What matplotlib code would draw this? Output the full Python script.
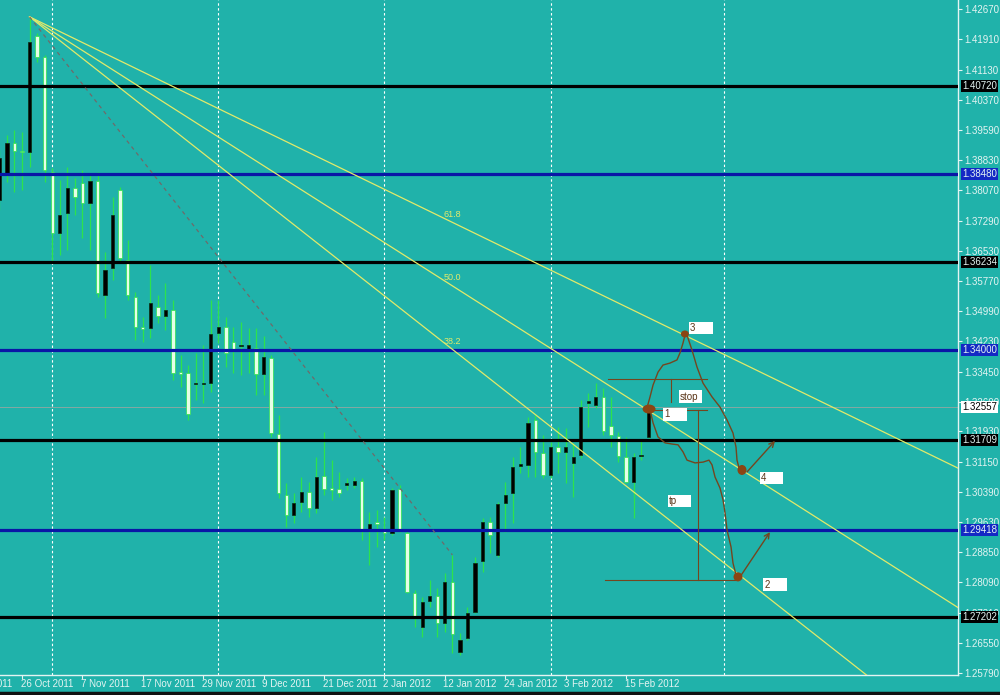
import matplotlib
matplotlib.use('Agg')
import matplotlib.pyplot as plt
import matplotlib.transforms as mtransforms
from matplotlib.patches import Rectangle, Ellipse
from matplotlib.lines import Line2D
import numpy as np

plt.rcParams['font.family'] = ['Liberation Sans', 'DejaVu Sans']

# ---------------- data (EURUSD daily, bar index 0 = 26 Oct 2011) ----------------
first_bar = -3
opens = [1.3782, 1.3846, 1.3927, 1.3907, 1.3904, 1.4199, 1.4146, 1.3853, 1.3698, 1.3749,
         1.3812, 1.3825, 1.3774, 1.3830, 1.3540, 1.3609, 1.3807, 1.3629, 1.3535, 1.3459,
         1.3456, 1.3510, 1.3487, 1.3502, 1.3344, 1.3342, 1.3314, 1.3314, 1.3316, 1.3444,
         1.3459, 1.3421, 1.3410, 1.3400, 1.3405, 1.3339, 1.3380, 1.3187, 1.3031, 1.2980,
         1.3013, 1.3039, 1.2998, 1.3080, 1.3049, 1.3047, 1.3057, 1.3057, 1.3067, 1.2942,
         1.2963, 1.2940, 1.2935, 1.3047, 1.2935, 1.2782, 1.2695, 1.2762, 1.2774, 1.2706,
         1.2810, 1.2632, 1.2667, 1.2734, 1.2863, 1.2963, 1.2879, 1.3011, 1.3036, 1.3105,
         1.3108, 1.3222, 1.3138, 1.3082, 1.3153, 1.3141, 1.3113, 1.3133, 1.3265, 1.3260,
         1.3281, 1.3207, 1.3181, 1.3128, 1.3064, 1.3131, 1.3179]
highs = [1.3909, 1.3947, 1.3960, 1.3955, 1.4248, 1.4207, 1.4151, 1.3863, 1.3833, 1.3866,
         1.3838, 1.3858, 1.3851, 1.3853, 1.3650, 1.3790, 1.3815, 1.3680, 1.3548, 1.3484,
         1.3617, 1.3540, 1.3571, 1.3527, 1.3388, 1.3362, 1.3393, 1.3413, 1.3527, 1.3527,
         1.3484, 1.3459, 1.3472, 1.3456, 1.3456, 1.3436, 1.3388, 1.3235, 1.3062, 1.3036,
         1.3077, 1.3064, 1.3128, 1.3192, 1.3120, 1.3090, 1.3075, 1.3077, 1.3075, 1.2988,
         1.2993, 1.2975, 1.3049, 1.3057, 1.2940, 1.2790, 1.2772, 1.2815, 1.2795, 1.2833,
         1.2879, 1.2680, 1.2746, 1.2874, 1.2973, 1.2975, 1.3013, 1.3064, 1.3128, 1.3153,
         1.3230, 1.3235, 1.3184, 1.3166, 1.3204, 1.3202, 1.3164, 1.3273, 1.3291, 1.3316,
         1.3304, 1.3281, 1.3192, 1.3179, 1.3138, 1.3171, 1.3262]
lows = [1.3756, 1.3828, 1.3802, 1.3807, 1.3866, 1.4133, 1.3828, 1.3624, 1.3642, 1.3655,
        1.3744, 1.3685, 1.3655, 1.3535, 1.3482, 1.3578, 1.3624, 1.3527, 1.3426, 1.3421,
        1.3431, 1.3469, 1.3451, 1.3324, 1.3306, 1.3222, 1.3273, 1.3265, 1.3293, 1.3418,
        1.3357, 1.3342, 1.3337, 1.3342, 1.3286, 1.3286, 1.3179, 1.3024, 1.2950, 1.2960,
        1.2988, 1.2975, 1.2986, 1.3031, 1.3019, 1.3026, 1.3044, 1.3049, 1.2917, 1.2853,
        1.2899, 1.2917, 1.2930, 1.2937, 1.2782, 1.2695, 1.2670, 1.2746, 1.2670, 1.2683,
        1.2629, 1.2624, 1.2662, 1.2731, 1.2835, 1.2884, 1.2874, 1.2937, 1.2960, 1.3087,
        1.3077, 1.3077, 1.3075, 1.3075, 1.3087, 1.3062, 1.3026, 1.3125, 1.3204, 1.3253,
        1.3184, 1.3153, 1.3115, 1.3062, 1.2973, 1.3120, 1.3176]
closes = [1.3889, 1.3927, 1.3907, 1.3904, 1.4184, 1.4146, 1.3858, 1.3698, 1.3744, 1.3812,
          1.3790, 1.3774, 1.3830, 1.3545, 1.3604, 1.3744, 1.3634, 1.3540, 1.3459, 1.3454,
          1.3520, 1.3487, 1.3502, 1.3342, 1.3339, 1.3237, 1.3316, 1.3316, 1.3441, 1.3459,
          1.3393, 1.3403, 1.3413, 1.3413, 1.3339, 1.3382, 1.3189, 1.3036, 1.2980, 1.3011,
          1.3039, 1.2998, 1.3077, 1.3047, 1.3044, 1.3036, 1.3062, 1.3067, 1.2942, 1.2958,
          1.2958, 1.2935, 1.3044, 1.2942, 1.2784, 1.2721, 1.2759, 1.2774, 1.2706, 1.2810,
          1.2678, 1.2662, 1.2731, 1.2858, 1.2963, 1.2930, 1.3008, 1.3031, 1.3103, 1.3110,
          1.3215, 1.3141, 1.3082, 1.3153, 1.3141, 1.3153, 1.3128, 1.3255, 1.3270, 1.3281,
          1.3194, 1.3184, 1.3131, 1.3064, 1.3128, 1.3133, 1.32557]

date_labels = ['14 Oct 2011', '26 Oct 2011', '7 Nov 2011', '17 Nov 2011', '29 Nov 2011',
               '9 Dec 2011', '21 Dec 2011', '2 Jan 2012', '12 Jan 2012', '24 Jan 2012',
               '3 Feb 2012', '15 Feb 2012']
date_bars = [-8, 0, 8, 16, 24, 32, 40, 48, 56, 64, 72, 80]
month_bars = [4, 26, 48, 70, 93]

price_ticks = [1.42670, 1.41910, 1.41130, 1.40370, 1.39590, 1.38830, 1.38070, 1.37290,
               1.36530, 1.35770, 1.34990, 1.34230, 1.33450, 1.32690, 1.31930, 1.31150,
               1.30390, 1.29630, 1.28850, 1.28090, 1.27310, 1.26550, 1.25790]

black_levels = [1.40720, 1.36234, 1.31709, 1.27202]
blue_levels = [1.38480, 1.34000, 1.29418]
bid_price = 1.32557

fan_bars = [1, 57]
fan_prices = [1.4248, 1.2879]
fan_levels = [0.382, 0.500, 0.618]

# hand drawn scenario
plan_hlines = [(77.6, 90.7, 1.3326), (82.5, 90.7, 1.3248), (77.2, 94.8, 1.2815)]
plan_vlines = [(85.96, 1.3326, 1.3268), (89.54, 1.3248, 1.2815)]
path_up_x = [82.78, 83.18, 83.58, 84.24, 84.90, 85.83, 86.75, 87.15, 87.55, 87.81]
path_up_p = [1.3253, 1.3281, 1.3311, 1.3344, 1.3362, 1.3367, 1.3375, 1.3393, 1.3418, 1.3438]
path_34_x = [88.08, 88.74, 89.40, 90.20, 91.39, 92.45, 93.38, 94.17, 94.57, 94.70, 94.97]
path_34_p = [1.3438, 1.3400, 1.3357, 1.3316, 1.3281, 1.3255, 1.3222, 1.3189, 1.3153, 1.3120, 1.3100]
path_12_x = [83.18, 83.58, 84.24, 85.17, 86.09, 86.89, 87.55, 88.08, 89.14, 90.20,
             90.99, 91.39, 91.79, 92.45, 92.85, 93.11, 93.38, 93.91, 94.17, 94.57]
path_12_p = [1.3248, 1.3215, 1.3179, 1.3164, 1.3161, 1.3159, 1.3141, 1.3120, 1.3113, 1.3115,
             1.3120, 1.3108, 1.3077, 1.3049, 1.3019, 1.2986, 1.2942, 1.2899, 1.2858, 1.2828]
arrows = [((96.03, 1.3090), (99.74, 1.3169)), ((95.10, 1.2823), (99.07, 1.2937))]
dots = [(83.05, 1.3250, 1.72, 0.00229), (87.8, 1.3441, 1.06, 0.00178),
        (95.36, 1.3095, 1.19, 0.00254), (94.83, 1.2823, 1.19, 0.00229)]
boxes = [('3', 88.34, 91.5, 1.3472, 1.3441), ('stop', 87.0, 90.07, 1.3298, 1.3265),
         ('1', 84.9, 88.08, 1.3253, 1.3220), ('tp', 85.56, 88.6, 1.3031, 1.3001),
         ('4', 97.75, 100.8, 1.3090, 1.3059), ('2', 98.15, 101.3, 1.2820, 1.2787)]

# ---------------- styling ----------------
BG = '#20B2AA'
WICK = '#2de24c'
BEAR_FILL = '#e6ffe6'
AXC = '#e4f4f2'
BLUE = '#0a16a6'
FAN = '#e2ea6a'
BROWN = '#74461f'
DOT = '#8B4513'

fig = plt.figure(figsize=(10, 6.95), dpi=100, facecolor=BG)
ax = fig.add_axes([0, 20 / 695, 0.958, 675 / 695], facecolor=BG)
ax.set_xlim(-2.914, 123.97)
ax.set_ylim(1.25733, 1.42908)

# month separators
for b in month_bars:
    ax.axvline(b, color='white', lw=0.8, ls=(0, (2.2, 2.2)), zorder=1)

# bid line
ax.axhline(bid_price, color='#86a8a2', lw=0.7, zorder=1.5)

# candles
bars = np.arange(first_bar, first_bar + len(closes))
for b, o, h, l, c in zip(bars, opens, highs, lows, closes):
    ax.vlines(b, l, h, color=WICK, lw=0.9, zorder=2)
    if abs(c - o) < 0.00015:
        ax.hlines(c, b - 0.25, b + 0.25, color=WICK, lw=1.0, zorder=3)
        continue
    bull = c > o
    ax.add_patch(Rectangle((b - 0.22, min(o, c)), 0.44, abs(c - o),
                           facecolor='black' if bull else BEAR_FILL,
                           edgecolor='#0b2a10' if bull else WICK, lw=0.5, zorder=3))

# fibonacci fan
for L in fan_levels:
    p_at = fan_prices[1] + (fan_prices[0] - fan_prices[1]) * L
    slope = (p_at - fan_prices[0]) / (fan_bars[1] - fan_bars[0])
    xe = 130
    ax.plot([fan_bars[0], xe], [fan_prices[0], fan_prices[0] + slope * (xe - fan_bars[0])],
            color=FAN, lw=0.9, zorder=5)
    ax.annotate(f'{L * 100:.1f}', (fan_bars[1], p_at), xytext=(0, 2.5),
                textcoords='offset points', ha='center', va='bottom',
                color=FAN, fontsize=6.5, zorder=6)
ax.plot(fan_bars, fan_prices, color='#6f6a6a', lw=0.9, ls=(0, (3, 3)), zorder=5)

# horizontal levels
for p in black_levels:
    ax.axhline(p, color='black', lw=2.3, zorder=4)
for p in blue_levels:
    ax.axhline(p, color=BLUE, lw=2.3, zorder=4)

# hand drawn plan
for x0, x1, p in plan_hlines:
    ax.plot([x0, x1], [p, p], color=BROWN, lw=0.8, zorder=6)
for x, p0, p1 in plan_vlines:
    ax.plot([x, x], [p0, p1], color=BROWN, lw=0.8, zorder=6)
for xs, ps in [(path_up_x, path_up_p), (path_34_x, path_34_p), (path_12_x, path_12_p)]:
    ax.plot(xs, ps, color=BROWN, lw=1.0, zorder=6, solid_capstyle='round')
for start, tip in arrows:
    ax.annotate('', xy=tip, xytext=start,
                arrowprops=dict(arrowstyle='->', color=BROWN, lw=1.0,
                                mutation_scale=9, shrinkA=0, shrinkB=0), zorder=6)
for x, p, w, h in dots:
    ax.add_patch(Ellipse((x, p), w, h, facecolor=DOT, edgecolor='none', zorder=7))
for txt, x0, x1, p0, p1 in boxes:
    ax.add_patch(Rectangle((x0, p1), x1 - x0, p0 - p1, facecolor='white',
                           edgecolor='none', zorder=7))
    ax.text(x0 + 0.15, (p0 + p1) / 2, txt, ha='left', va='center', fontsize=7,
            color='#5a3518', zorder=8)

# axes frame & ticks
for s in ['top', 'left']:
    ax.spines[s].set_visible(False)
for s in ['right', 'bottom']:
    ax.spines[s].set_color(AXC)
    ax.spines[s].set_linewidth(1.0)
ax.yaxis.tick_right()
ax.set_yticks(price_ticks)
ax.set_yticklabels([f'{t:.5f}' for t in price_ticks])
ax.tick_params(axis='y', direction='out', length=3, width=0.8, color=AXC,
               labelcolor=AXC, labelsize=7, pad=1.5)
ax.set_xticks(date_bars[1:])
ax.set_xticklabels([''] * len(date_bars[1:]))
ax.tick_params(axis='x', direction='out', length=3, width=0.8, color=AXC)

xtrans = mtransforms.offset_copy(
    mtransforms.blended_transform_factory(ax.transData, ax.transAxes),
    fig=fig, x=-1.5, y=0, units='dots')
for b, lab in zip(date_bars, date_labels):
    ax.text(b, -9 / 675, lab, transform=xtrans, ha='left', va='center',
            fontsize=7, color=AXC, clip_on=False)

# highlighted price boxes
ytrans = mtransforms.blended_transform_factory(ax.transAxes, ax.transData)
hl = [(p, 'black', AXC) for p in black_levels] + [(p, '#1428c4', AXC) for p in blue_levels] \
     + [(bid_price, 'white', 'black')]
for p, fc, tc in hl:
    ax.text(962 / 958, p, f'{p:.5f}', transform=ytrans, ha='left', va='center',
            fontsize=7, color=tc, zorder=10, clip_on=False,
            bbox=dict(boxstyle='square,pad=0.12', fc=fc, ec='none'))

# bottom strip
fig.add_artist(Line2D([0, 1], [2 / 695, 2 / 695], transform=fig.transFigure,
                      color='#111111', lw=2.5))

fig.savefig('out.png', dpi=100, facecolor=BG)
